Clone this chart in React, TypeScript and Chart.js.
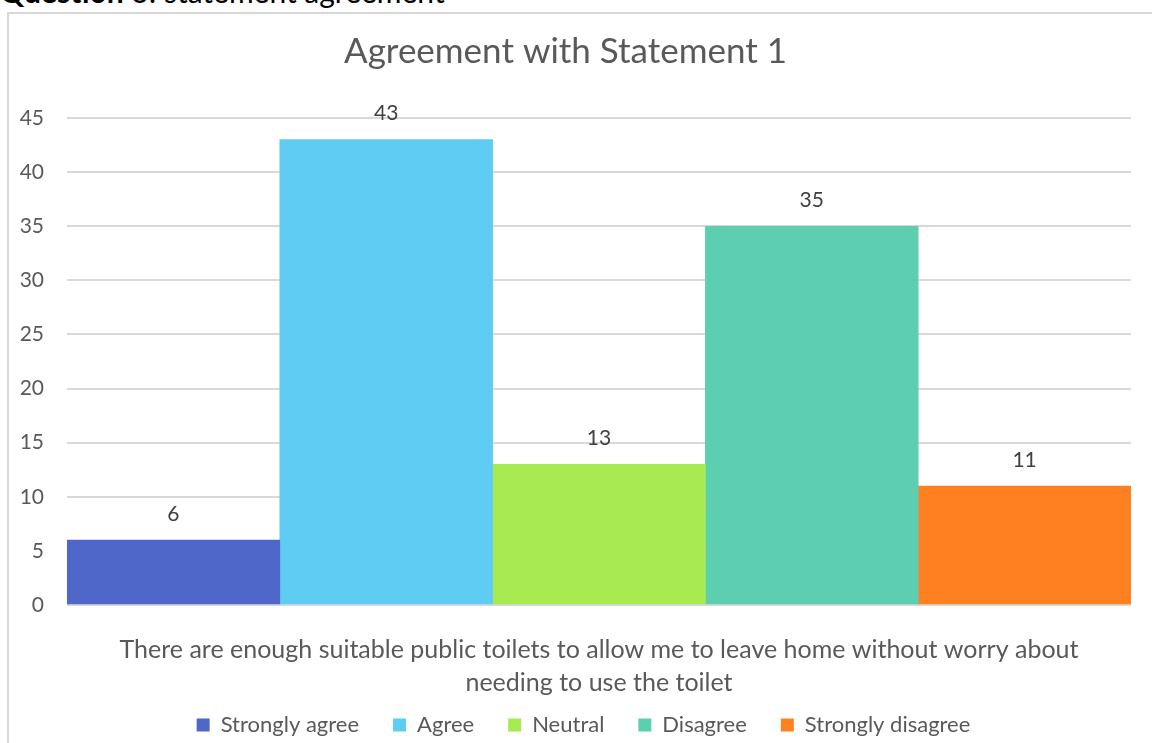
import React, { useEffect, useRef } from "react";
import { Chart, registerables } from "chart.js";

Chart.register(...registerables);

const categories = [""];
const seriesNames = ["Strongly agree", "Agree", "Neutral", "Disagree", "Strongly disagree"];
const seriesValues = [6, 43, 13, 35, 11];
const seriesColors = ["#4E67C8", "#5ECCF3", "#A7EA52", "#5DCEAF", "#FF8021"];
const yMin = 0;
const yMax = 45;
const yStep = 5;
const chartTitle = "Agreement with Statement 1";
const xAxisTitle = [
  "There are enough suitable public toilets to allow me to leave home without worry about",
  "needing to use the toilet",
];
const headingBold = "Question";
const headingRest = " 3: statement agreement";

const FONT = "Lato, Carlito, Calibri, 'Open Sans', sans-serif";
const TEXT = "#595959";

const valueLabels = {
  id: "valueLabels",
  afterDatasetsDraw(chart: any) {
    const ctx = chart.ctx;
    ctx.save();
    ctx.font = `21px ${FONT}`;
    ctx.fillStyle = "#404040";
    ctx.textAlign = "center";
    ctx.textBaseline = "middle";
    chart.data.datasets.forEach((ds: any, i: number) => {
      const meta = chart.getDatasetMeta(i);
      meta.data.forEach((el: any, j: number) => {
        ctx.fillText(String(ds.data[j]), el.x, el.y - 26);
      });
    });
    ctx.restore();
  },
};

const legendShift = {
  id: "legendShift",
  afterLayout(chart: any) {
    const lg = chart.legend;
    if (!lg) return;
    lg.left += 18;
    lg.right += 18;
    lg.top += 3;
    lg.bottom += 3;
  },
};

export default function App() {
  const canvasRef = useRef<HTMLCanvasElement | null>(null);

  useEffect(() => {
    if (!canvasRef.current) return;
    const chart = new Chart(canvasRef.current, {
      type: "bar",
      data: {
        labels: categories,
        datasets: seriesNames.map((name, i) => ({
          label: name,
          data: [seriesValues[i]],
          backgroundColor: seriesColors[i],
          borderWidth: 0,
          categoryPercentage: 1,
          barPercentage: 1,
        })),
      },
      options: {
        responsive: false,
        animation: false,
        layout: { padding: { left: 0, right: 21, top: 0, bottom: 0 } },
        plugins: {
          title: {
            display: true,
            text: chartTitle,
            color: TEXT,
            font: { family: FONT, size: 35, weight: "normal", lineHeight: 1.2 },
            padding: { top: 31, bottom: 45 },
          },
          legend: {
            display: true,
            position: "bottom",
            labels: {
              boxWidth: 13,
              boxHeight: 13,
              padding: 34,
              color: TEXT,
              font: { family: FONT, size: 22 },
            },
          },
          tooltip: { enabled: false },
        },
        scales: {
          x: {
            grid: { display: false, drawTicks: false },
            border: { display: false },
            ticks: { display: false },
            title: {
              display: true,
              text: xAxisTitle,
              color: TEXT,
              font: { family: FONT, size: 25, lineHeight: 33 / 25 },
              padding: { top: 28.5, bottom: -22.5 },
            },
          },
          y: {
            min: yMin,
            max: yMax,
            afterFit(scale: any) {
              scale.width = 67;
            },
            grid: { color: "#d9d9d9", lineWidth: 2, drawTicks: false },
            border: { display: false },
            ticks: {
              stepSize: yStep,
              padding: 23,
              color: TEXT,
              font: { family: FONT, size: 21 },
            },
          },
        },
      },
      plugins: [valueLabels, legendShift],
    } as any);
    return () => chart.destroy();
  }, []);

  return (
    <div
      style={{
        position: "fixed",
        left: 0,
        top: 0,
        width: 1152,
        height: 743,
        background: "#ffffff",
        overflow: "hidden",
      }}
    >
      <div
        style={{
          position: "absolute",
          left: 0,
          top: -24,
          fontFamily: FONT,
          fontSize: 30,
          lineHeight: "30px",
          color: "#000000",
          whiteSpace: "nowrap",
        }}
      >
        <b>{headingBold}</b>
        {headingRest}
      </div>
      <div
        style={{
          position: "absolute",
          left: 7,
          top: 12,
          width: 1200,
          height: 800,
          border: "2px solid #d9d9d9",
          boxSizing: "border-box",
        }}
      />
      <canvas
        ref={canvasRef}
        width={1152}
        height={743}
        style={{ position: "absolute", left: 0, top: 0, display: "block" }}
      />
    </div>
  );
}
